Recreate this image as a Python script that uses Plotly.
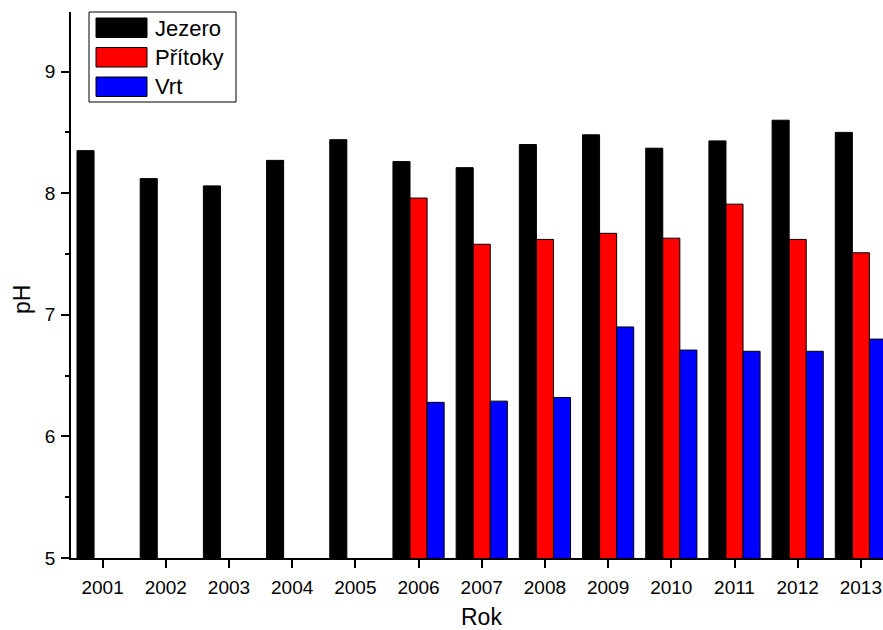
import plotly.graph_objects as go

# Roky měření
years = ["2001", "2002", "2003", "2004", "2005", "2006", "2007",
         "2008", "2009", "2010", "2011", "2012", "2013"]

# Průměrné pH
jezero = [8.35, 8.12, 8.06, 8.27, 8.44, 8.26, 8.21, 8.40, 8.48, 8.37, 8.43, 8.60, 8.50]
pritoky = [None, None, None, None, None, 7.96, 7.58, 7.62, 7.67, 7.63, 7.91, 7.62, 7.51]
vrt = [None, None, None, None, None, 6.28, 6.29, 6.32, 6.90, 6.71, 6.70, 6.70, 6.80]

series_names = ["Jezero", "Přítoky", "Vrt"]
series_colors = ["#000000", "#ff0000", "#0000ff"]
series_values = [jezero, pritoky, vrt]

y_ticks = [5, 6, 7, 8, 9]

W, H = 883, 630
M_L, M_R, M_T, M_B = 71, 0, 12, 72
FONT = "Arial, Liberation Sans, sans-serif"

fig = go.Figure()
for name, color, vals in zip(series_names, series_colors, series_values):
    fig.add_trace(go.Bar(
        x=years, y=vals, name=name,
        marker=dict(color=color, line=dict(color="#000000", width=1)),
        showlegend=False,
    ))


def px_x(p):
    return (p - M_L) / (W - M_L - M_R)


def px_y(p):
    return (H - M_B - p) / (H - M_T - M_B)


# Legenda: rámeček, barevné vzorky a popisky
shapes = [dict(type="rect", xref="paper", yref="paper",
               x0=px_x(89), x1=px_x(236), y0=px_y(102), y1=px_y(12),
               line=dict(color="#000000", width=1), fillcolor="white", layer="above")]
annotations = []
row_top = [18, 47.5, 77]
for name, color, top in zip(series_names, series_colors, row_top):
    shapes.append(dict(type="rect", xref="paper", yref="paper",
                       x0=px_x(96), x1=px_x(147), y0=px_y(top + 19.5), y1=px_y(top),
                       line=dict(color="#000000", width=1), fillcolor=color, layer="above"))
    annotations.append(dict(xref="paper", yref="paper", x=px_x(153), y=px_y(top + 10),
                            text=name, showarrow=False, xanchor="left", yanchor="middle",
                            font=dict(family=FONT, size=22, color="#000000")))

# Popisky os
annotations.append(dict(xref="paper", yref="paper", x=px_x(22), y=px_y(300),
                        text="pH", textangle=-90, showarrow=False,
                        xanchor="center", yanchor="middle",
                        font=dict(family=FONT, size=23, color="#000000")))
annotations.append(dict(xref="paper", yref="paper", x=px_x(481), y=px_y(617),
                        text="Rok", showarrow=False,
                        xanchor="center", yanchor="middle",
                        font=dict(family=FONT, size=23, color="#000000")))

fig.update_layout(
    width=W, height=H,
    margin=dict(l=M_L, r=M_R, t=M_T, b=M_B, pad=0),
    paper_bgcolor="white", plot_bgcolor="white",
    barmode="group", bargap=0.19, bargroupgap=0,
    font=dict(family=FONT, color="#000000"),
    shapes=shapes, annotations=annotations,
    xaxis=dict(
        type="category", range=[-0.5, 12.35],
        showline=True, linecolor="#000000", linewidth=1.5,
        ticks="outside", ticklen=8, tickwidth=1.5, tickcolor="#000000",
        ticklabelstandoff=3,
        tickfont=dict(family=FONT, size=19, color="#000000"),
        showgrid=False, zeroline=False,
    ),
    yaxis=dict(
        range=[5, 9.49], tickvals=y_ticks,
        showline=True, linecolor="#000000", linewidth=1.5,
        ticks="outside", ticklen=8, tickwidth=1.5, tickcolor="#000000",
        ticklabelstandoff=2,
        tickfont=dict(family=FONT, size=19, color="#000000"),
        minor=dict(dtick=0.5, tick0=5, ticks="outside", ticklen=4, tickwidth=1.5,
                   tickcolor="#000000", showgrid=False),
        showgrid=False, zeroline=False,
    ),
)

fig.write_html("out.html")
